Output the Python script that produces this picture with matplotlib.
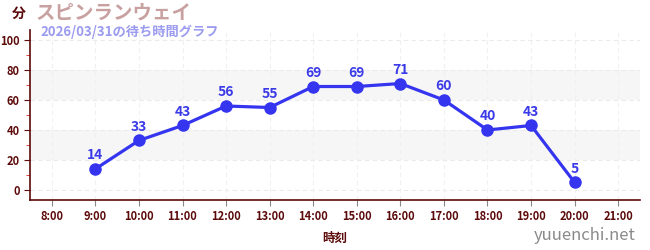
import matplotlib
matplotlib.use("Agg")
import matplotlib.pyplot as plt
from matplotlib.ticker import MultipleLocator

plt.rcParams['font.family'] = ['Noto Sans CJK JP', 'DejaVu Sans']

hours = [9, 10, 11, 12, 13, 14, 15, 16, 17, 18, 19, 20]
waits = [14, 33, 43, 56, 55, 69, 69, 71, 60, 40, 43, 5]
tick_hours = list(range(8, 22))
tick_labels = [f"{h}:00" for h in tick_hours]
title = "スピンランウェイ"
subtitle = "2026/03/31の待ち時間グラフ"

axis_col = '#5c0a0a'
line_col = '#3535f0'

fig = plt.figure(figsize=(6.5, 2.5), dpi=100)
ax = fig.add_axes([30/650, 1-200/250, 610/650, 170/250])
ax.set_xlim(7.5, 21.5)
ax.set_ylim(-6.7, 106.7)

for lo, hi in [(20, 40), (60, 80)]:
    ax.axhspan(lo, hi, color='#f6f6f6', zorder=0, lw=0)
for y in range(0, 101, 20):
    ax.axhline(y, color='#ebebeb', lw=0.8, ls=(0, (4, 3)), zorder=1)
for h in tick_hours:
    ax.axvline(h, color='#f0f0f0', lw=0.8, ls=(0, (4, 3)), zorder=1)

ax.plot(hours, waits, color=line_col, lw=2.3, marker='o', ms=8, zorder=3)
for h, w in zip(hours, waits):
    ax.annotate(str(w), (h, w), xytext=(0, 5), textcoords='offset points',
                ha='center', va='bottom', color='#3a3ae8', fontsize=10,
                fontweight='bold', zorder=4)

ax.set_xticks(tick_hours)
ax.set_xticklabels(tick_labels)
ax.set_yticks(range(0, 101, 20))
ax.yaxis.set_minor_locator(MultipleLocator(10))
ax.tick_params(axis='y', which='minor', length=3, color='#e02020')
ax.tick_params(axis='both', which='major', labelsize=8, colors=axis_col, length=4)
ax.tick_params(axis='x', which='major', color='#888888')
for lab in ax.get_xticklabels() + ax.get_yticklabels():
    lab.set_fontweight('bold')
    lab.set_color(axis_col)

for s in ['top', 'right']:
    ax.spines[s].set_visible(False)
ax.spines['left'].set_color(axis_col)
ax.spines['bottom'].set_color(axis_col)
ax.spines['left'].set_linewidth(1.2)
ax.spines['bottom'].set_linewidth(1.2)

ax.set_xlabel("時刻", fontsize=9, fontweight='bold', color=axis_col, labelpad=6)

fig.text(12/650, 1-14/250, "分", fontsize=10, fontweight='bold', color=axis_col, va='center', ha='left')
fig.text(36/650, 1-13/250, title, fontsize=14, fontweight='bold', color='#c9a0a0', va='center', ha='left')
fig.text(40/650, 1-32/250, subtitle, fontsize=9.5, fontweight='bold', color='#9b9bf0', va='center', ha='left')
fig.text(636/650, 1-235/250, "yuuenchi.net", fontsize=12, color='#8a8a8a', va='center', ha='right')

fig.savefig("out.png", dpi=100, facecolor='white')
